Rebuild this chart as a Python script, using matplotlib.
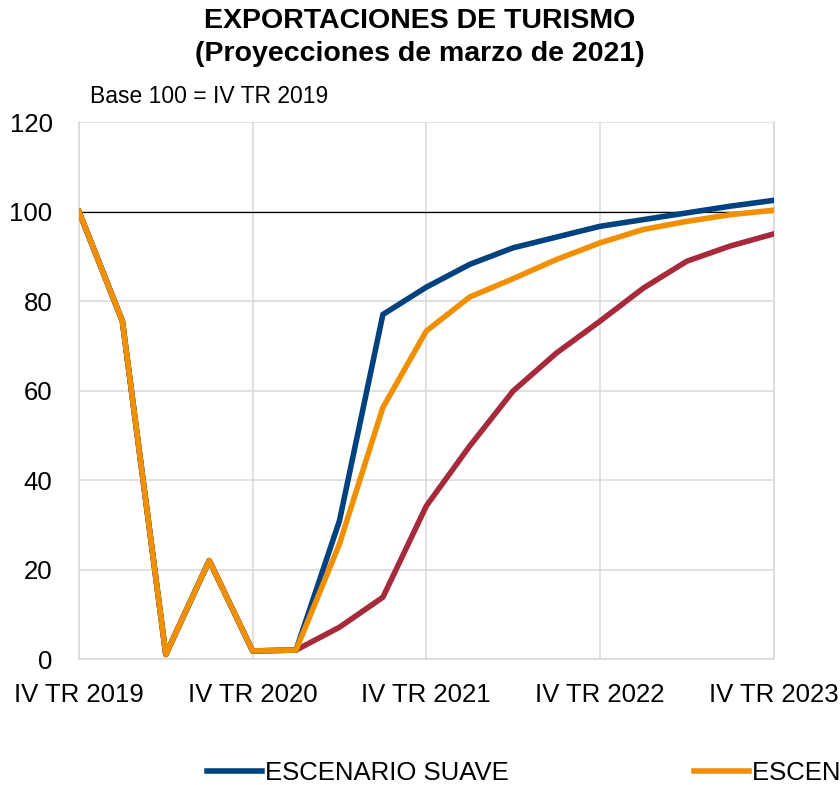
import matplotlib

matplotlib.use("Agg")
import matplotlib.pyplot as plt

plt.rcParams["font.family"] = ["Liberation Sans", "DejaVu Sans"]

# quarters from IV TR 2019 to IV TR 2023
quarters = list(range(17))
tick_pos = [0, 4, 8, 12, 16]
tick_labels = ["IV TR 2019", "IV TR 2020", "IV TR 2021", "IV TR 2022", "IV TR 2023"]

suave = [100, 75.5, 1, 22, 1.8, 2, 30.9, 77.0, 83.1, 88.2, 91.9, 94.3, 96.7, 98.2, 99.7, 101.2, 102.5]
central = [100, 75.5, 1, 22, 1.8, 2, 25.7, 56.2, 73.3, 80.9, 85.0, 89.3, 93.0, 96.0, 97.8, 99.3, 100.3]
severo = [100, 75.5, 1, 22, 1.8, 2, 7.1, 13.8, 34.2, 47.6, 59.9, 68.4, 75.5, 82.9, 88.9, 92.3, 95.0]

c_suave = "#00427F"
c_central = "#F09000"
c_severo = "#A62A3B"
grid_c = "#D9D9D9"

fig = plt.figure(figsize=(8.4, 7.85), dpi=100)
ax = fig.add_axes([0.094, 0.1605, 0.827, 0.684])

ax.axhline(100, color="black", linewidth=0.9, zorder=2)
ax.plot(quarters, severo, color=c_severo, linewidth=4, label="ESCENARIO SEVERO", zorder=3)
ax.plot(quarters, suave, color=c_suave, linewidth=4, label="ESCENARIO SUAVE", zorder=4)
ax.plot(quarters, central, color=c_central, linewidth=4, label="ESCENARIO CENTRAL", zorder=5)

ax.set_xlim(0, 16)
ax.set_ylim(0, 120)
ax.set_yticks(range(0, 121, 20))
ax.set_xticks(tick_pos)
ax.set_xticklabels(tick_labels)
ax.tick_params(axis="both", length=0, labelsize=18.5, colors="black")
ax.tick_params(axis="x", pad=17)
ax.tick_params(axis="y", pad=19)
ax.grid(True, color=grid_c, linewidth=1.1, zorder=0)
ax.set_axisbelow(True)
for side in ["left", "bottom", "right", "top"]:
    ax.spines[side].set_color(grid_c)
    ax.spines[side].set_linewidth(1.1)
ax.spines["top"].set_visible(False)

fig.text(0.5, 0.952, "EXPORTACIONES DE TURISMO\n(Proyecciones de marzo de 2021)",
         ha="center", va="center", fontsize=20.5, fontweight="bold", linespacing=1.38)
fig.text(0.107, 0.877, "Base 100 = IV TR 2019", ha="left", va="center", fontsize=16.5)

# legend runs past the right edge, as in the source figure
handles, labels = ax.get_legend_handles_labels()
order = [1, 2, 0]
fig.legend([handles[i] for i in order], [labels[i] for i in order],
           loc="center left", bbox_to_anchor=(207 / 840, 1 - 773 / 785),
           ncol=3, frameon=False, fontsize=18.5, handlelength=2.15,
           handletextpad=0.12, columnspacing=7.2, borderpad=0, borderaxespad=0)

fig.savefig("out.png", dpi=100)
